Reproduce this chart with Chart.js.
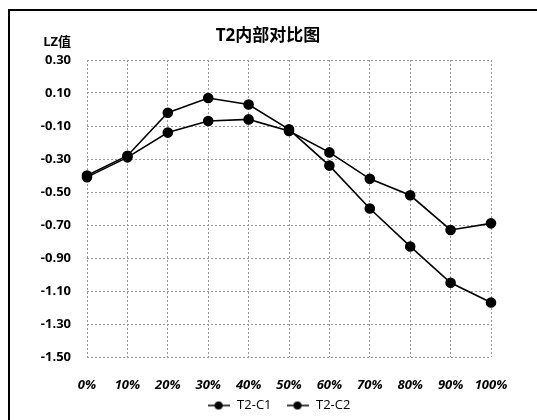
<!DOCTYPE html>
<html>
<head>
<meta charset="utf-8">
<script src="https://cdn.jsdelivr.net/npm/chart.js@4"></script>
<style>
  html, body { margin: 0; padding: 0; background: #fff; }
  #wrap { position: relative; width: 537px; height: 420px; overflow: hidden; }
  #frame { position: absolute; left: 8px; top: 9px; width: 560px; height: 440px;
           border-top: 2px solid #000; border-left: 2px solid #000; }
  canvas { position: absolute; left: 0; top: 0; }
</style>
</head>
<body>
<div id="wrap">
  <div id="frame"></div>
  <canvas id="c" width="537" height="420"></canvas>
</div>
<script>
// Categories along the x axis
const categories = ['0%', '10%', '20%', '30%', '40%', '50%', '60%', '70%', '80%', '90%', '100%'];
// LZ values of each series
const seriesC1 = [-0.40, -0.28, -0.02, 0.07, 0.03, -0.12, -0.34, -0.60, -0.83, -1.05, -1.17];
const seriesC2 = [-0.41, -0.29, -0.14, -0.07, -0.06, -0.13, -0.26, -0.42, -0.52, -0.73, -0.69];
const seriesNames = ['T2-C1', 'T2-C2'];
// Value axis range
const yMin = -1.5, yMax = 0.3, yStep = 0.2;
const chartTitle = 'T2内部对比图';
const yAxisTitle = 'LZ值';

const FONT = '"Open Sans", "Noto Sans CJK SC", sans-serif';

// Legend marker: short line with a dot in the middle
function legendMarker() {
  const m = document.createElement('canvas');
  m.width = 22; m.height = 10;
  const g = m.getContext('2d');
  g.strokeStyle = '#000'; g.lineWidth = 1.5;
  g.beginPath(); g.moveTo(0, 5); g.lineTo(22, 5); g.stroke();
  g.fillStyle = '#000';
  g.beginPath(); g.arc(11, 5, 4, 0, Math.PI * 2); g.fill();
  return m;
}
const marker = legendMarker();

// Title and y-axis caption drawn above the plot
const captions = {
  id: 'captions',
  afterDraw(chart) {
    const ctx = chart.ctx;
    ctx.save();
    ctx.fillStyle = '#000';
    ctx.textBaseline = 'middle';
    ctx.font = 'bold 17px ' + FONT;
    ctx.textAlign = 'center';
    ctx.fillText(chartTitle, 268, 36);
    ctx.font = 'bold 13px ' + FONT;
    ctx.textAlign = 'right';
    ctx.fillText(yAxisTitle, 71, 42);
    ctx.restore();
  }
};

// Centre the legend a little right of the plot centre and lift it slightly
const legendShift = {
  id: 'legendShift',
  afterLayout(chart) {
    const lg = chart.legend;
    if (!lg) return;
    const d = (chart.width - (lg.left + lg.right)) / 2 + 10;
    lg.left += d; lg.right += d;
    lg.top -= 6; lg.bottom -= 6;
  }
};

const ds = (label, data) => ({
  label, data,
  borderColor: '#000', backgroundColor: '#000',
  borderWidth: 1.6, pointRadius: 4.5, pointHoverRadius: 4.5,
  pointStyle: 'circle', tension: 0, fill: false
});

new Chart(document.getElementById('c'), {
  type: 'line',
  data: { labels: categories, datasets: [ds(seriesNames[0], seriesC1), ds(seriesNames[1], seriesC2)] },
  options: {
    responsive: false, animation: false,
    layout: { padding: { top: 60, right: 46, left: 0, bottom: -8 } },
    plugins: {
      title: { display: false },
      tooltip: { enabled: false },
      legend: {
        position: 'bottom',
        labels: {
          usePointStyle: true, pointStyleWidth: 24, boxHeight: 10, padding: 14,
          color: '#000', font: { family: FONT, size: 13 },
          generateLabels(chart) {
            return chart.data.datasets.map((d, i) => ({
              text: d.label, pointStyle: marker, fillStyle: '#000',
              strokeStyle: '#000', lineWidth: 0, hidden: false, datasetIndex: i,
              fontColor: '#000'
            }));
          }
        }
      }
    },
    scales: {
      x: {
        offset: false,
        grid: { color: '#999', lineWidth: 1, drawTicks: false },
        border: { display: false, dash: [2, 2] },
        ticks: { color: '#000', padding: 20, maxRotation: 0,
                 font: { family: FONT, size: 13, style: 'italic', weight: 'bold' } },
        afterFit(s) { s.height = 34; }
      },
      y: {
        min: yMin, max: yMax,
        grid: { color: '#999', lineWidth: 1, drawTicks: false },
        border: { display: false, dash: [2, 2] },
        ticks: { stepSize: yStep, color: '#000', padding: 16,
                 font: { family: FONT, size: 13, weight: 'bold' },
                 callback: v => Number(v).toFixed(2) },
        afterFit(s) { s.width = 87; }
      }
    }
  },
  plugins: [captions, legendShift]
});
</script>
</body>
</html>
